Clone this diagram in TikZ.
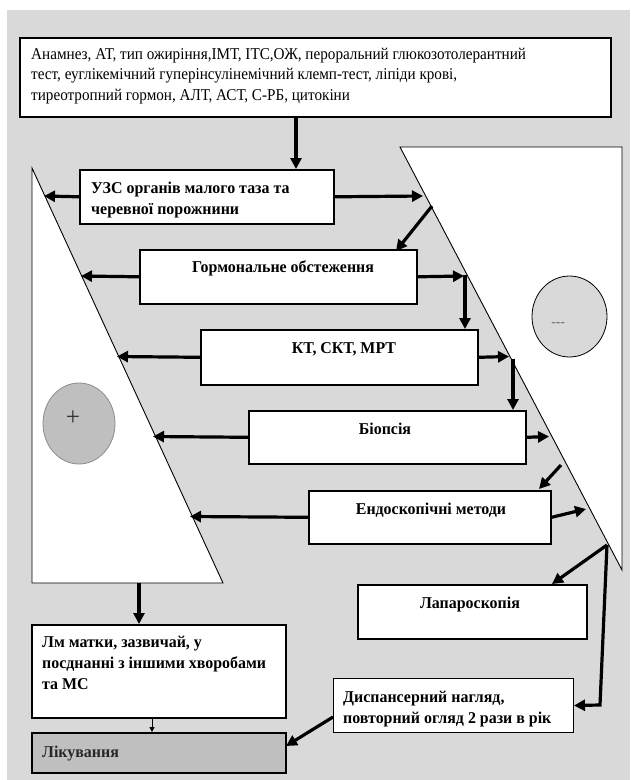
\documentclass[tikz,border=0pt]{standalone}
\usepackage{fontspec}
\setmainfont{Liberation Serif}[FakeStretch=0.965]
\newfontfamily\condfont{Liberation Serif}[FakeStretch=0.92]
\usetikzlibrary{arrows.meta,shapes.geometric}
\definecolor{bggray}{HTML}{D9D9D9}
\definecolor{darkfill}{HTML}{BFBFBF}
\definecolor{circedge}{HTML}{8C8C8C}
\newcommand{\mylines}[2]{\parbox[t]{#1}{\raggedright #2}}
\begin{document}
\begin{tikzpicture}[x=1pt,y=-1pt,
  box/.style={draw=black, line width=1.6pt, fill=white, rectangle, inner sep=0pt, anchor=north west},
  thinbox/.style={box, line width=1pt},
  arr/.style={line width=3.2pt, -{Triangle[length=11pt,width=11pt]}},
  thinarr/.style={line width=0.9pt, -{Triangle[length=5pt,width=5pt]}},
  rtxt/.style={inner sep=0pt, font=\condfont\fontsize{16.5}{20.5}\selectfont},
  btxt/.style={inner sep=0pt, font=\fontsize{16.5}{21}\selectfont\bfseries},
  tri/.style={draw=black, line width=0.9pt, fill=white}
]
\useasboundingbox (0,0) rectangle (630,780);
\fill[bggray] (7,10) rectangle (630,780);

% big white triangles
\path[tri] (32,168) -- (32,583) -- (223,583) -- cycle;
\path[tri] (400,147) -- (622,147) -- (622,570) -- cycle;

% circles
\node[ellipse, draw=circedge, line width=0.8pt, fill=darkfill, minimum width=72pt, minimum height=81pt, inner sep=0pt] (plus) at (79,423.5) {};
\node[inner sep=0pt, text=black!80, font=\fontsize{26}{26}\selectfont] (plustxt) at (73,418) {+};
\node[ellipse, draw=black, line width=0.8pt, fill=bggray, minimum width=75pt, minimum height=81pt, inner sep=0pt] (minus) at (569.5,316.5) {};
\node[inner sep=0pt, text=black!60, font=\fontsize{14}{14}\selectfont] (minustxt) at (558,325) {-\kern0pt-\kern0pt-};

% boxes
\node[box, minimum width=591pt, minimum height=79pt] (top) at (19,37) {};
\node[box, minimum width=254pt, minimum height=54pt] (uzs) at (79,169) {};
\node[box, minimum width=277pt, minimum height=54pt] (hb) at (139,249) {};
\node[box, minimum width=277pt, minimum height=55pt] (kt) at (200,329) {};
\node[box, minimum width=277pt, minimum height=53pt] (bio) at (248,410) {};
\node[box, minimum width=242pt, minimum height=53pt] (endo) at (308,490) {};
\node[box, minimum width=229pt, minimum height=54pt] (lap) at (357,584) {};
\node[box, minimum width=254pt, minimum height=93pt] (lm) at (31,624) {};
\node[box, fill=darkfill, minimum width=254pt, minimum height=40pt] (lik) at (31,732) {};
\node[thinbox, minimum width=240pt, minimum height=54pt] (disp) at (333,678) {};

% texts
\node[rtxt, anchor=base west] (toptxt) at (31,59) {\mylines{575pt}{Анамнез, АТ, тип ожиріння,ІМТ, ІТС,ОЖ, пероральний глюкозотолерантний\\тест, еуглікемічний гуперінсулінемічний клемп-тест, ліпіди крові,\\тиреотропний гормон, АЛТ, АСТ, С-РБ, цитокіни}};
\node[btxt, anchor=base west] (uzstxt) at (91,193) {\mylines{240pt}{УЗС органів малого таза та\\черевної порожнини}};
\node[btxt, anchor=base] (hbtxt) at (283,272) {Гормональне обстеження};
\node[btxt, anchor=base] (kttxt) at (344,353) {КТ, СКТ, МРТ};
\node[btxt, anchor=base] (biotxt) at (385,434) {Біопсія};
\node[btxt, anchor=base] (endotxt) at (431,514) {Ендоскопічні методи};
\node[btxt, anchor=base] (laptxt) at (470,608) {Лапароскопія};
\node[btxt, anchor=base west] (lmtxt) at (42,647) {\mylines{240pt}{Лм матки, зазвичай, у\\посднанні з іншими хворобами\\та МС}};
\node[btxt, anchor=base west, text=black!85] (liktxt) at (42,757) {Лікування};
\node[btxt, anchor=base west] (disptxt) at (343,702) {\mylines{230pt}{Диспансерний нагляд,\\повторний огляд 2 рази в рік}};

% coordinates
\coordinate (t1) at (296,116);
\coordinate (uL) at (44,196);
\coordinate (uR) at (423,196);
\coordinate (hL) at (81,276);
\coordinate (hR) at (464,276);
\coordinate (kL) at (117,356.5);
\coordinate (kR) at (509,356.5);
\coordinate (bL) at (153,436.5);
\coordinate (bR) at (549,436.5);
\coordinate (eL) at (190,516.5);
\coordinate (eR) at (586,509);
\coordinate (d1s) at (432,206);
\coordinate (d1e) at (396,251);
\coordinate (hv) at (465,275);
\coordinate (kv) at (513,359);
\coordinate (d2s) at (561,465);
\coordinate (d2e) at (539,489);
\coordinate (J) at (607,545);
\coordinate (lapT) at (552,584);
\coordinate (jb) at (600,705);
\coordinate (tb) at (139,583);
\coordinate (lmb) at (152,717);
\coordinate (ds) at (333,717);
\coordinate (le) at (286,746);

% arrows
\draw[arr] (t1) -- (t1 |- uzs.north);
\draw[arr] (uzs.west) -- (uL);
\draw[arr] (uzs.east) -- (uR);
\draw[arr] (d1s) -- (d1e);
\draw[arr] (hb.west) -- (hL);
\draw[arr] (hb.east) -- (hR);
\draw[arr] (hv) -- (hv |- kt.north);
\draw[arr] (kt.west) -- (kL);
\draw[arr] (kt.east) -- (kR);
\draw[arr] (kv) -- (kv |- bio.north);
\draw[arr] (bio.west) -- (bL);
\draw[arr] (bio.east) -- (bR);
\draw[arr] (d2s) -- (d2e);
\draw[arr] (endo.west) -- (eL);
\draw[arr] (endo.east) -- (eR);
\draw[arr] (J) -- (lapT);
\draw[arr] (J) -- (jb) -- (disp.east);
\draw[arr] (tb) -- (tb |- lm.north);
\draw[thinarr] (lmb) -- (lmb |- lik.north);
\draw[arr] (ds) -- (le);
\end{tikzpicture}
\end{document}
